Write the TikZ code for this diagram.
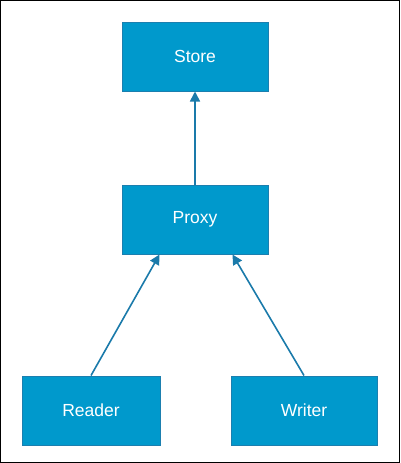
\documentclass[tikz,border=0pt]{standalone}
\usepackage{fontspec}
\setmainfont{Liberation Sans}
\usetikzlibrary{arrows.meta,calc}
\definecolor{boxfill}{HTML}{0099CC}
\definecolor{boxline}{HTML}{1B7FAF}
\definecolor{arrowc}{HTML}{1A7AAA}
\begin{document}
\begin{tikzpicture}[x=1pt,y=1pt,
  box/.style={draw=boxline,fill=boxfill,line width=1pt,minimum height=69pt,
    text=white,font=\fontsize{17.5}{20}\selectfont,inner sep=0pt},
  conn/.style={draw=arrowc,line width=1.6pt,-{Triangle[width=10pt,length=10pt]}}]
\useasboundingbox (0,0) rectangle (400,-463);
\draw[black,line width=1.2pt] (0.6,-0.6) rectangle (399.4,-462.4);
\node[box,minimum width=146pt] (store) at (195,-56.5) {Store};
\node[box,minimum width=146pt] (proxy) at (195,-219.5) {Proxy};
\node[box,minimum width=138pt] (reader) at (91,-410.5) {Reader};
\node[box,minimum width=146pt] (writer) at (304,-410.5) {Writer};
\coordinate (pl) at ($(proxy.south west)+(38,0)$);
\coordinate (pr) at ($(proxy.south east)+(-36,0)$);
\draw[conn] (proxy.north) -- (store.south);
\draw[conn] (reader.north) -- (pl);
\draw[conn] (writer.north) -- (pr);
\end{tikzpicture}
\end{document}
